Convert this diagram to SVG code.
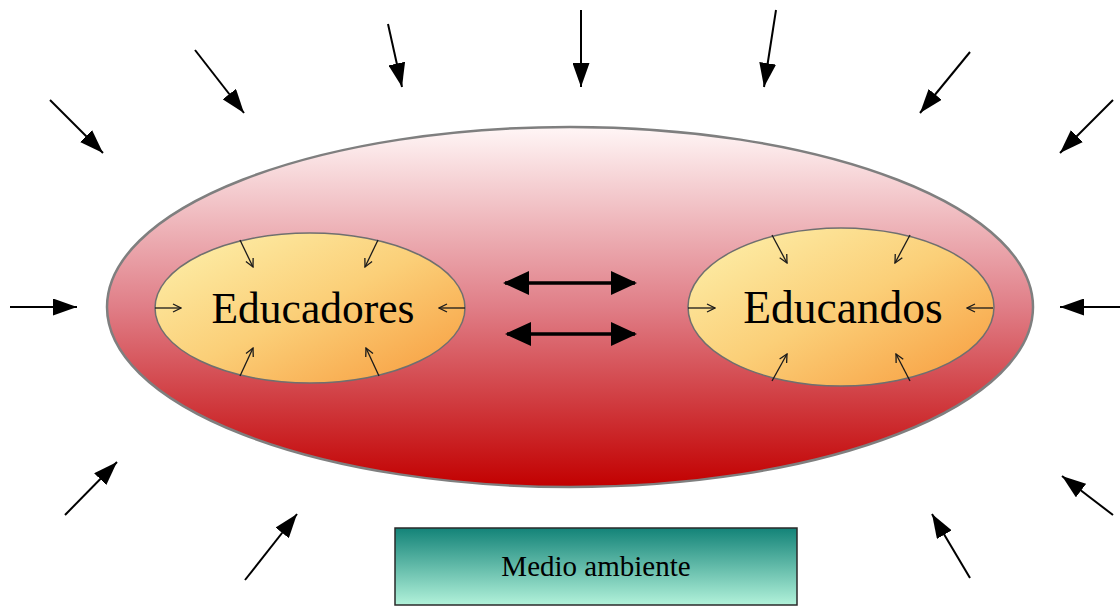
<svg xmlns="http://www.w3.org/2000/svg" width="1120" height="607" viewBox="0 0 1120 607">
<style>
.out{stroke:#000;stroke-width:2;fill:none;marker-end:url(#tri)}
.in{stroke:#1a1a1a;stroke-width:1.3;fill:none;marker-end:url(#open)}
.dbl{stroke:#000;stroke-width:3.5;fill:none;marker-start:url(#big);marker-end:url(#big)}
.lbl{font-family:"Liberation Serif","Times New Roman",serif;fill:#000;text-anchor:middle}
</style>
<defs>
<linearGradient id="gBig" x1="0" y1="0" x2="0" y2="1">
<stop offset="0" stop-color="#fff6f6"/>
<stop offset="0.5" stop-color="#e07e87"/>
<stop offset="1" stop-color="#c20000"/>
</linearGradient>
<linearGradient id="gIn" x1="0" y1="0" x2="1" y2="1">
<stop offset="0" stop-color="#fdf2ae"/>
<stop offset="0.5" stop-color="#fbcf78"/>
<stop offset="1" stop-color="#f79a3c"/>
</linearGradient>
<linearGradient id="gBox" x1="0" y1="0" x2="0" y2="1">
<stop offset="0" stop-color="#138378"/>
<stop offset="1" stop-color="#b2f2da"/>
</linearGradient>
<marker id="tri" viewBox="0 0 24 17" refX="24" refY="8.5" markerWidth="24" markerHeight="17" markerUnits="userSpaceOnUse" orient="auto">
<path d="M0,0 L24,8.5 L0,17 Z" fill="#000"/>
</marker>
<marker id="open" viewBox="0 0 10 10" refX="9" refY="5" markerWidth="10" markerHeight="10" markerUnits="userSpaceOnUse" orient="auto">
<path d="M1,1 L9,5 L1,9" fill="none" stroke="#1a1a1a" stroke-width="1.3"/>
</marker>
<marker id="big" viewBox="0 0 26 24" refX="24" refY="12" markerWidth="26" markerHeight="24" markerUnits="userSpaceOnUse" orient="auto-start-reverse">
<path d="M0,0 L26,12 L0,24 Z" fill="#000"/>
</marker>
</defs>
<rect width="1120" height="607" fill="#fff"/>
<g id="entorno">
<ellipse cx="570" cy="307" rx="463" ry="180" fill="url(#gBig)" stroke="#7f7f7f" stroke-width="2.5"/>
</g>
<g id="educadores">
<ellipse cx="310" cy="308" rx="155" ry="75" fill="url(#gIn)" stroke="#6f6f6f" stroke-width="1.5"/>
<text class="lbl" x="313" y="323" font-size="43.5">Educadores</text>
</g>
<g id="educandos">
<ellipse cx="841" cy="307" rx="153" ry="79" fill="url(#gIn)" stroke="#6f6f6f" stroke-width="1.5"/>
<text class="lbl" x="843" y="323" font-size="45.5">Educandos</text>
</g>
<g id="medio-ambiente">
<rect x="395" y="528" width="402" height="77" fill="url(#gBox)" stroke="#2a2a2a" stroke-width="1.5"/>
<text class="lbl" x="596" y="576" font-size="29">Medio ambiente</text>
</g>
<g id="connectors">
<line class="out" x1="50" y1="100" x2="103" y2="153"/>
<line class="out" x1="195" y1="50" x2="244" y2="113"/>
<line class="out" x1="388" y1="24" x2="402" y2="87"/>
<line class="out" x1="581" y1="10" x2="581" y2="87"/>
<line class="out" x1="776" y1="10" x2="764" y2="87"/>
<line class="out" x1="970" y1="52" x2="920" y2="113"/>
<line class="out" x1="1113" y1="100" x2="1060" y2="153"/>
<line class="out" x1="10" y1="307" x2="77" y2="307"/>
<line class="out" x1="1120" y1="307" x2="1060" y2="307"/>
<line class="out" x1="65" y1="515" x2="117" y2="462"/>
<line class="out" x1="245" y1="580" x2="297" y2="514"/>
<line class="out" x1="970" y1="578" x2="932" y2="514"/>
<line class="out" x1="1113" y1="515" x2="1062" y2="476"/>
<line class="in" x1="155" y1="308" x2="181" y2="308"/>
<line class="in" x1="465" y1="308" x2="439" y2="308"/>
<line class="in" x1="240" y1="240" x2="253" y2="267"/>
<line class="in" x1="378" y1="240" x2="365" y2="267"/>
<line class="in" x1="240" y1="376" x2="253" y2="348"/>
<line class="in" x1="379" y1="376" x2="366" y2="348"/>
<line class="in" x1="688" y1="308" x2="715" y2="308"/>
<line class="in" x1="993" y1="308" x2="967" y2="308"/>
<line class="in" x1="772" y1="235" x2="787" y2="263"/>
<line class="in" x1="910" y1="235" x2="895" y2="263"/>
<line class="in" x1="772" y1="381" x2="787" y2="354"/>
<line class="in" x1="910" y1="381" x2="896" y2="354"/>
<line class="dbl" x1="505" y1="283" x2="635" y2="283"/>
<line class="dbl" x1="507" y1="334" x2="635" y2="334"/>
</g>
</svg>
